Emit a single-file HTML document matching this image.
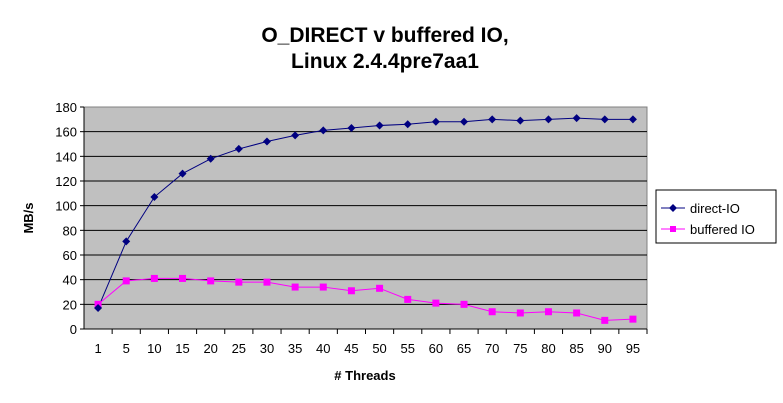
<html><head><style>body{margin:0;background:#fff}svg text{font-family:"Liberation Sans",Arial,sans-serif}</style></head><body>
<svg id="c" width="783" height="403">
<text x="385" y="42" text-anchor="middle" font-size="21" font-weight="bold">O_DIRECT v buffered IO,</text>
<text x="385" y="68" text-anchor="middle" font-size="21" font-weight="bold">Linux 2.4.4pre7aa1</text>
<rect x="84" y="107" width="563" height="222" fill="#c0c0c0" stroke="#808080"/>
<g id="grid"></g><g id="axes"></g><g id="series"></g>
<text x="33" y="218" transform="rotate(-90 33 218)" text-anchor="middle" font-size="13" font-weight="bold">MB/s</text>
<text x="365" y="380" text-anchor="middle" font-size="13" font-weight="bold"># Threads</text>
<g>
<rect x="656" y="190" width="120" height="53" fill="#fff" stroke="#000"/>
<line x1="661" y1="208" x2="685" y2="208" stroke="#000080"/><path d="M673 204L677 208L673 212L669 208Z" fill="#000080"/>
<text x="690" y="213" font-size="13">direct-IO</text>
<line x1="661" y1="229" x2="685" y2="229" stroke="#ff00ff"/><rect x="670" y="226" width="6" height="6" fill="#ff00ff"/>
<text x="690" y="234" font-size="13">buffered IO</text>
</g>
</svg>
<script>
const categories=["1","5","10","15","20","25","30","35","40","45","50","55","60","65","70","75","80","85","90","95"];
const directIO=[17,71,107,126,138,146,152,157,161,163,165,166,168,168,170,169,170,171,170,170];
const bufferedIO=[20,39,41,41,39,38,38,34,34,31,33,24,21,20,14,13,14,13,7,8];
const yTicks=[0,20,40,60,80,100,120,140,160,180];
const L=84,R=647,T=107,B=329,NS="http://www.w3.org/2000/svg";
const bw=(R-L)/categories.length;
const x=i=>L+bw*(i+0.5), y=v=>B-(v/180)*(B-T);
function mk(t,a,p){const e=document.createElementNS(NS,t);for(const k in a)e.setAttribute(k,a[k]);p.appendChild(e);return e;}
const g=document.getElementById('grid'),ax=document.getElementById('axes'),s=document.getElementById('series');
yTicks.forEach(v=>{
 if(v>0&&v<180){const l=mk('line',{x1:L,x2:R,y1:y(v),y2:y(v),stroke:'#000'},g);
 
 }
 mk('line',{x1:L-4,x2:L,y1:y(v),y2:y(v),stroke:'#000'},ax);
 const t=mk('text',{x:L-7,y:y(v)+5,'text-anchor':'end','font-size':13},ax);t.textContent=v;
 
 
});
mk('line',{x1:L,x2:L,y1:T,y2:B,stroke:'#000'},ax);
mk('line',{x1:L,x2:R,y1:B,y2:B,stroke:'#000'},ax);
categories.forEach((c,i)=>{
 mk('line',{x1:L+bw*(i+1),x2:L+bw*(i+1),y1:B,y2:B+5,stroke:'#000'},ax);
 const t=mk('text',{x:x(i),y:B+24,'text-anchor':'middle','font-size':13},ax);t.textContent=c;
 
 
});
function line(vals,col,name){
 const p=mk('polyline',{points:vals.map((v,i)=>x(i)+','+y(v)).join(' '),fill:'none',stroke:col},s);
 
 
}
line(bufferedIO,'#ff00ff','buffered-io');
line(directIO,'#000080','direct-io');
bufferedIO.forEach((v,i)=>{const r=mk('rect',{x:x(i)-3.5,y:y(v)-3.5,width:7,height:7,fill:'#ff00ff'},s);
 
 });
directIO.forEach((v,i)=>{const X=x(i),Y=y(v);const r=mk('path',{d:`M${X} ${Y-4}L${X+4} ${Y}L${X} ${Y+4}L${X-4} ${Y}Z`,fill:'#000080'},s);
 
 });
</script>
</body></html>
